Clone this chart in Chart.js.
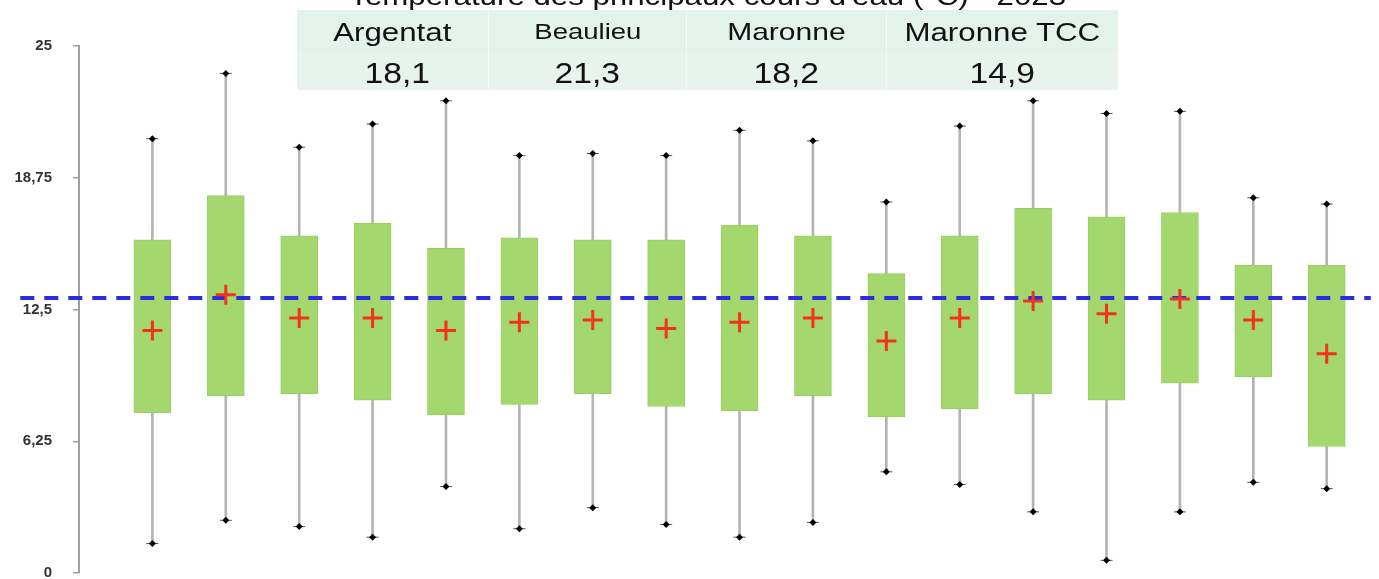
<!DOCTYPE html>
<html>
<head>
<meta charset="utf-8">
<script src="https://cdn.jsdelivr.net/npm/chart.js@4"></script>
<style>
  html, body { margin: 0; padding: 0; background: #fff; }
  #wrap { position: relative; width: 1379px; height: 579px; overflow: hidden; }
  #box { position: absolute; left: 0; top: 0; width: 1379px; height: 579px; }
  #tbl { position: absolute; left: 297px; top: 0; width: 821px; height: 90px;
         font-family: "Liberation Sans", Arial, sans-serif; color: #111; }
  #tbl span { display: inline-block; transform: scaleX(1.25); }
  #tbl .title { position: absolute; left: 0; width: 100%; top: -16px; height: 24px; line-height: 24px;
                text-align: center; font-size: 25px; background: #fff; }
  #tbl .row { position: absolute; left: 0; width: 100%; display: flex; }
  #tbl .row div { text-align: center; border-right: 1px solid #f4faf6; box-sizing: border-box; }
  #tbl .head { top: 10px; height: 42px; line-height: 44px; background: #e3f2ea; }
  #tbl .vals { top: 52px; height: 38px; line-height: 42px; background: #e7f4ed; font-size: 29px; }
  #tbl .vals span { transform: scaleX(1.16); }
</style>
</head>
<body>
<div id="wrap">
  <canvas id="box" width="1379" height="579"></canvas>
  <div id="tbl">
    <div class="title"><span>Température des principaux cours d'eau (°C) - 2023</span></div>
    <div class="row head">
      <div style="width:192px;font-size:25px"><span>Argentat</span></div>
      <div style="width:198px;font-size:22px"><span>Beaulieu</span></div>
      <div style="width:200px;font-size:24px"><span>Maronne</span></div>
      <div style="width:231px;font-size:25px;border-right:none"><span>Maronne TCC</span></div>
    </div>
    <div class="row vals">
      <div style="width:192px;padding-left:10px"><span>18,1</span></div>
      <div style="width:198px"><span>21,3</span></div>
      <div style="width:200px"><span>18,2</span></div>
      <div style="width:231px;border-right:none"><span>14,9</span></div>
    </div>
  </div>
</div>
<script>
'use strict'

// one box per station / period
var positions = [1, 2, 3, 4, 5, 6, 7, 8, 9, 10, 11, 12, 13, 14, 15, 16, 17];
var minValues = [1.4, 2.5, 2.2, 1.7, 4.1, 2.1, 3.1, 2.3, 1.7, 2.4, 4.8, 4.2, 2.9, 0.6, 2.9, 4.3, 4.0];
var q1Values = [7.6, 8.4, 8.5, 8.2, 7.5, 8.0, 8.5, 7.9, 7.7, 8.4, 7.4, 7.8, 8.5, 8.2, 9.0, 9.3, 6.0];
var q3Values = [15.8, 17.9, 16.0, 16.6, 15.4, 15.9, 15.8, 15.8, 16.5, 16.0, 14.2, 16.0, 17.3, 16.9, 17.1, 14.6, 14.6];
var maxValues = [20.6, 23.7, 20.2, 21.3, 22.4, 19.8, 19.9, 19.8, 21.0, 20.5, 17.6, 21.2, 22.4, 21.8, 21.9, 17.8, 17.5];
var meanValues = [11.5, 13.2, 12.1, 12.1, 11.5, 11.9, 12.0, 11.6, 11.9, 12.1, 11.0, 12.1, 12.9, 12.3, 13.0, 12.0, 10.4];
var refLevel = 13.05;
var refRange = [-0.8, 17.6];
var yTicks = [0, 6.25, 12.5, 18.75, 25];

function toPoints(xs, ys) {
    var pts = [];
    for (let i = 0; i < xs.length; i++) {
        pts.push({ x: xs[i], y: ys[i] });
    }
    return pts;
}

function toRanges(xs, lo, hi) {
    var pts = [];
    for (let i = 0; i < xs.length; i++) {
        pts.push({ x: xs[i], y: [lo[i], hi[i]] });
    }
    return pts;
}

var boxConfig = {
    type: 'bar',
    data: {
        datasets: [{
            label: 'whisker',
            data: toRanges(positions, minValues, maxValues),
            backgroundColor: '#b4b4b4',
            barThickness: 2,
            grouped: false,
            order: 6,
        }, {
            label: 'box',
            data: toRanges(positions, q1Values, q3Values),
            backgroundColor: '#a4d86e',
            borderColor: '#98cf62',
            borderWidth: 1,
            borderSkipped: false,
            barThickness: 37,
            grouped: false,
            order: 5,
        }, {
            type: 'line',
            label: 'ref',
            data: [{ x: refRange[0], y: refLevel }, { x: refRange[1], y: refLevel }],
            borderColor: '#2b2be0',
            borderWidth: 4,
            borderDash: [14, 10],
            pointRadius: 0,
            clip: false,
            order: 4,
        }, {
            type: 'scatter',
            label: 'cap',
            data: toPoints(positions, minValues).concat(toPoints(positions, maxValues)),
            pointStyle: 'line',
            pointRadius: 6,
            borderColor: '#555',
            borderWidth: 1,
            order: 3,
        }, {
            type: 'scatter',
            label: 'extreme',
            data: toPoints(positions, minValues).concat(toPoints(positions, maxValues)),
            pointStyle: 'rectRot',
            pointRadius: 3.5,
            backgroundColor: '#000',
            borderColor: '#000',
            borderWidth: 0,
            order: 2,
        }, {
            type: 'scatter',
            label: 'mean',
            data: toPoints(positions, meanValues),
            pointStyle: 'cross',
            pointRadius: 10,
            borderColor: '#f2321e',
            borderWidth: 3,
            order: 1,
        }]
    },
    options: {
        responsive: false,
        animation: false,
        layout: {
            autoPadding: false,
            padding: { left: 0, right: 9, top: 46, bottom: 6 }
        },
        plugins: {
            legend: { display: false },
            tooltip: { enabled: false },
        },
        scales: {
            x: {
                type: 'linear',
                display: false,
                offset: false,
                min: 0,
                max: 17.59,
            },
            y: {
                min: 0,
                max: 25,
                afterFit: function (scale) {
                    scale.width = 79;
                    // tick padding would otherwise push the plot bottom up
                    scale.paddingTop = 0;
                    scale.paddingBottom = 0;
                },
                afterBuildTicks: function (scale) {
                    scale.ticks = yTicks.map(function (v) { return { value: v }; });
                },
                border: { display: true, color: '#a0a0a0', width: 2 },
                grid: {
                    drawOnChartArea: false,
                    drawTicks: true,
                    tickLength: 6,
                    color: '#a0a0a0',
                    lineWidth: 1.5,
                },
                ticks: {
                    padding: 21,
                    color: '#333',
                    font: { family: 'Liberation Sans, Arial, sans-serif', size: 15, weight: 'bold' },
                    callback: function (v) { return String(v).replace('.', ','); },
                },
            }
        }
    }
};

var chart_box = new Chart(document.getElementById('box'), boxConfig);
</script>
</body>
</html>
